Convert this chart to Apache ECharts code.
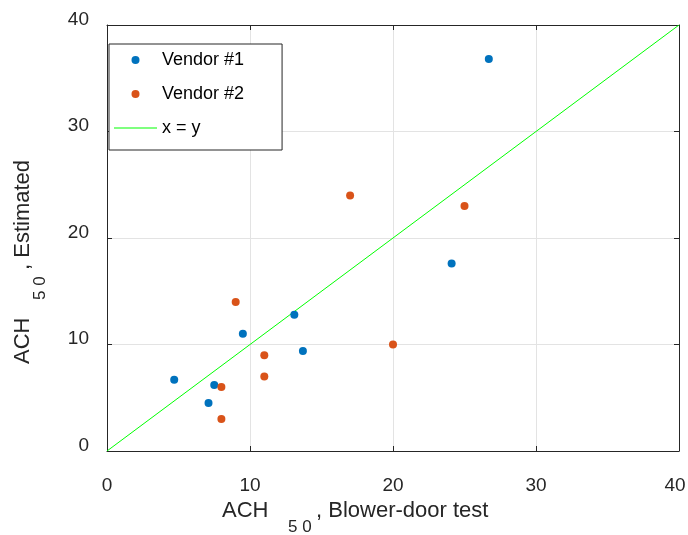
<!DOCTYPE html>
<html>
<head>
<meta charset="utf-8">
<script src="https://cdn.jsdelivr.net/npm/echarts@6/dist/echarts.min.js"></script>
<style>
  html, body { margin: 0; padding: 0; background: #fff; }
  #chart { width: 688px; height: 535px; }
</style>
</head>
<body>
<div id="chart"></div>
<script>
// ACH50: blower-door measurement (x) vs estimate (y)
const vendor1 = [
  [4.7, 6.7], [7.1, 4.5], [7.5, 6.2], [9.5, 11.0],
  [13.1, 12.8], [13.7, 9.4], [24.1, 17.6], [26.7, 36.8]
];
const vendor2 = [
  [8.0, 3.0], [8.0, 6.0], [9.0, 14.0], [11.0, 7.0],
  [11.0, 9.0], [17.0, 24.0], [20.0, 10.0], [25.0, 23.0]
];
const identityLine = [[0, 0], [40, 40]];
const seriesNames = ['Vendor #1', 'Vendor #2', 'x = y'];
const axisMin = 0, axisMax = 40, axisStep = 10;

const FONT = '"Liberation Sans", Arial, sans-serif';
const INK = '#262626';
const GRID_LINE = '#e3e3e3';

const chart = echarts.init(document.getElementById('chart'));

function frameAxis(pos, showLabels, isX) {
  const ax = {
    type: 'value',
    position: pos,
    min: axisMin,
    max: axisMax,
    interval: axisStep,
    axisLine: { show: true, onZero: false, lineStyle: { color: INK, width: 1 } },
    axisTick: { show: true, inside: true, length: 5, lineStyle: { color: INK } },
    splitLine: { show: showLabels, lineStyle: { color: GRID_LINE, width: 1 } },
    axisLabel: { show: false }
  };
  if (showLabels) {
    ax.axisLabel = isX
      ? {
          show: true, color: INK, fontSize: 19, fontFamily: FONT, margin: 25,
          // keep the last label inside the canvas edge
          formatter: v => (v === axisMax ? '{edge|' + v + '}' : String(v)),
          rich: { edge: { color: INK, fontSize: 19, fontFamily: FONT, padding: [0, 8, 0, 0] } }
        }
      : { show: true, color: INK, fontSize: 19, fontFamily: FONT, margin: 18,
          verticalAlign: 'bottom', lineHeight: 11 };
  }
  return ax;
}

const option = {
  animation: false,
  backgroundColor: '#ffffff',
  grid: { left: 107, right: 9, top: 25, bottom: 84, containLabel: false, outerBoundsMode: 'none' },
  xAxis: [frameAxis('bottom', true, true), frameAxis('top', false, true)],
  yAxis: [frameAxis('left', true, false), frameAxis('right', false, false)],
  legend: {
    orient: 'vertical',
    left: 109,
    top: 44,
    itemWidth: 43,
    itemHeight: 8,
    itemGap: 14,
    itemTextGap: 3,
    padding: [6, 38, 12, 5],
    borderColor: INK,
    borderWidth: 1,
    backgroundColor: '#ffffff',
    textStyle: { color: '#000', fontSize: 18, fontFamily: FONT, lineHeight: 20 },
    data: [
      { name: seriesNames[0], icon: 'circle' },
      { name: seriesNames[1], icon: 'circle' },
      { name: seriesNames[2], icon: 'path://M0,0L43,0L43,1L0,1Z' }
    ]
  },
  graphic: [
    // x-axis title with subscript
    { type: 'text', left: 222, top: 500, style: { text: 'ACH', font: '22px ' + FONT, fill: INK } },
    { type: 'text', left: 288, top: 519, style: { text: '5 0', font: '17px ' + FONT, fill: INK } },
    { type: 'text', left: 316, top: 500, style: { text: ', Blower-door test', font: '22px ' + FONT, fill: INK } },
    // y-axis title, rotated
    { type: 'text', x: 12, y: 364, rotation: Math.PI / 2,
      style: { text: 'ACH', font: '22px ' + FONT, fill: INK, align: 'left', verticalAlign: 'top' } },
    { type: 'text', x: 32, y: 300, rotation: Math.PI / 2,
      style: { text: '5 0', font: '17px ' + FONT, fill: INK, align: 'left', verticalAlign: 'top' } },
    { type: 'text', x: 12, y: 270, rotation: Math.PI / 2,
      style: { text: ', Estimated', font: '22px ' + FONT, fill: INK, align: 'left', verticalAlign: 'top' } }
  ],
  series: [
    {
      name: seriesNames[0], type: 'scatter', data: vendor1,
      symbol: 'circle', symbolSize: 8,
      itemStyle: { color: '#0072BD', opacity: 1 }, z: 3
    },
    {
      name: seriesNames[1], type: 'scatter', data: vendor2,
      symbol: 'circle', symbolSize: 8,
      itemStyle: { color: '#D95319', opacity: 1 }, z: 3
    },
    {
      name: seriesNames[2], type: 'line', data: identityLine,
      symbol: 'none', lineStyle: { color: '#00FF00', width: 1 },
      itemStyle: { color: '#00FF00' }, z: 2
    }
  ]
};

chart.setOption(option);
</script>
</body>
</html>
